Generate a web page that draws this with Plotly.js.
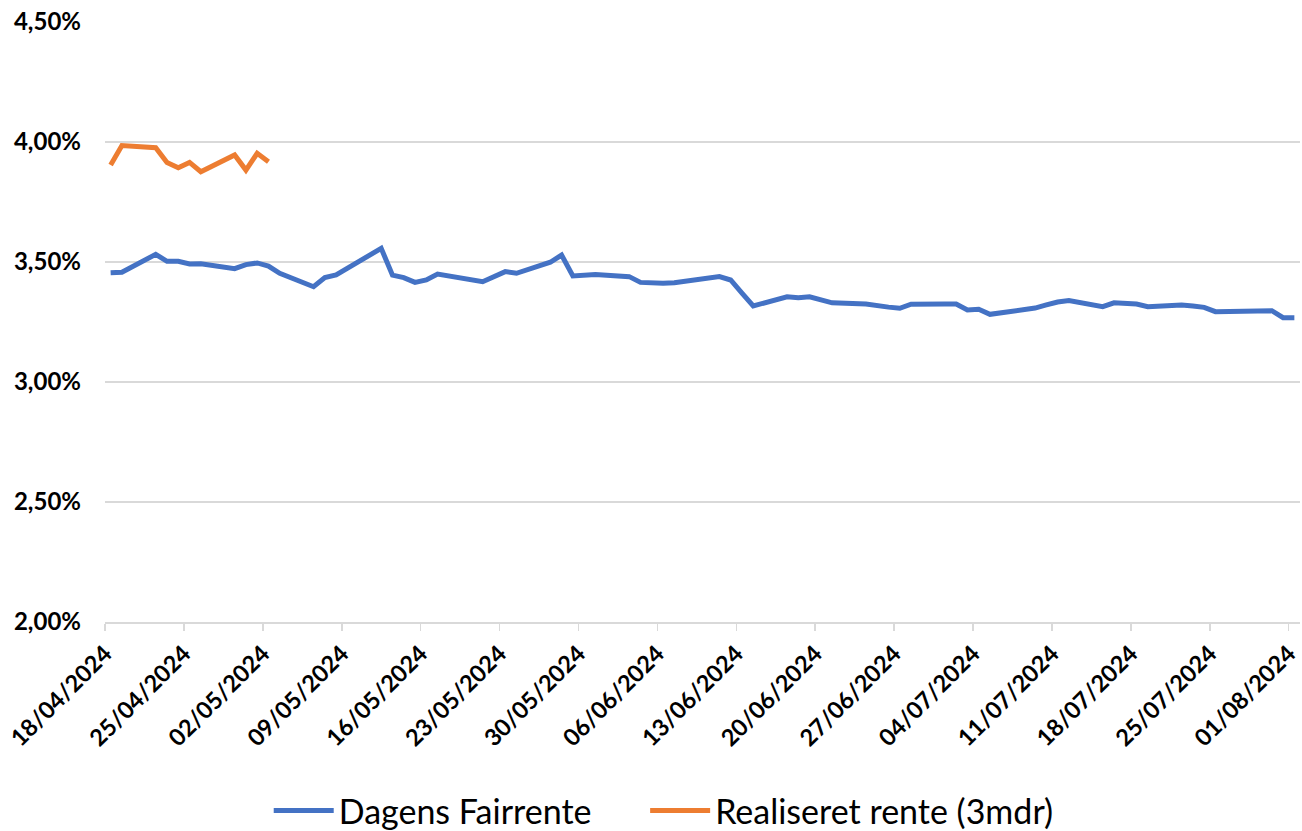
<!DOCTYPE html>
<html>
<head>
<meta charset="utf-8">
<script src="https://cdn.plot.ly/plotly-3.0.1.min.js"></script>
<style>html,body{margin:0;padding:0;background:#fff;}#chart{width:1302px;height:831px;}</style>
</head>
<body>
<div id="chart"></div>
<script>
// Dagens Fairrente (blue)
const fairDates = ["2024-04-18","2024-04-19","2024-04-22","2024-04-23","2024-04-24","2024-04-25","2024-04-26",
"2024-04-29","2024-04-30","2024-05-01","2024-05-02","2024-05-03","2024-05-06","2024-05-07","2024-05-08",
"2024-05-12","2024-05-13","2024-05-14","2024-05-15","2024-05-16","2024-05-17","2024-05-21","2024-05-23","2024-05-24",
"2024-05-27","2024-05-28","2024-05-29","2024-05-30","2024-05-31","2024-06-03","2024-06-04","2024-06-06","2024-06-07",
"2024-06-11","2024-06-12","2024-06-13","2024-06-14","2024-06-17","2024-06-18","2024-06-19","2024-06-20","2024-06-21",
"2024-06-24","2024-06-25","2024-06-26","2024-06-27","2024-06-28","2024-07-01","2024-07-02","2024-07-03","2024-07-04","2024-07-05",
"2024-07-08","2024-07-09","2024-07-10","2024-07-11","2024-07-12","2024-07-15","2024-07-16","2024-07-17","2024-07-18","2024-07-19",
"2024-07-22","2024-07-23","2024-07-24","2024-07-25","2024-07-26","2024-07-29","2024-07-30","2024-07-31","2024-08-01"];
const fairValues = [3.455,3.457,3.532,3.503,3.503,3.492,3.493,
3.472,3.489,3.496,3.483,3.453,3.397,3.435,3.446,
3.557,3.445,3.435,3.415,3.425,3.450,3.418,3.460,3.453,
3.499,3.529,3.442,3.444,3.448,3.439,3.415,3.411,3.414,
3.439,3.425,3.370,3.317,3.355,3.351,3.355,3.343,3.330,
3.325,3.317,3.312,3.307,3.324,3.325,3.325,3.300,3.303,3.282,
3.300,3.308,3.321,3.333,3.339,3.314,3.330,3.327,3.325,3.314,
3.321,3.317,3.311,3.293,3.294,3.296,3.297,3.268,3.268];

// Realiseret rente (3mdr) (orange)
const realDates = ["2024-04-18","2024-04-19","2024-04-22","2024-04-23","2024-04-24","2024-04-25","2024-04-26",
"2024-04-29","2024-04-30","2024-05-01","2024-05-02"];
const realValues = [3.904,3.985,3.976,3.915,3.893,3.915,3.876,3.946,3.883,3.953,3.918];

// Axis ticks
const tickDates = ["2024-04-18","2024-04-25","2024-05-02","2024-05-09","2024-05-16","2024-05-23","2024-05-30",
"2024-06-06","2024-06-13","2024-06-20","2024-06-27","2024-07-04","2024-07-11","2024-07-18","2024-07-25","2024-08-01"];
const tickLabels = ["18/04/2024","25/04/2024","02/05/2024","09/05/2024","16/05/2024","23/05/2024","30/05/2024",
"06/06/2024","13/06/2024","20/06/2024","27/06/2024","04/07/2024","11/07/2024","18/07/2024","25/07/2024","01/08/2024"];
const yTicks = [2.0,2.5,3.0,3.5,4.0,4.5];

// points sit in the middle of each day slot (Excel date axis)
const mid = d => d + " 12:00";
const pct = v => v / 100;

const traces = [
  {x: fairDates.map(mid), y: fairValues.map(pct), type: "scatter", mode: "lines", name: "Dagens Fairrente",
   line: {color: "#4472C4", width: 5}, legend: "legend"},
  {x: realDates.map(mid), y: realValues.map(pct), type: "scatter", mode: "lines", name: "Realiseret rente (3mdr)",
   line: {color: "#ED7D31", width: 5}, legend: "legend2"}
];

const legendBase = {
  orientation: "h", xanchor: "left", y: -0.315, yanchor: "middle",
  font: {size: 34, family: "Lato", color: "#000"},
  itemwidth: 60, bgcolor: "rgba(0,0,0,0)"
};

const layout = {
  width: 1302, height: 831,
  margin: {l: 105, r: 2, t: 22, b: 209, autoexpand: false},
  paper_bgcolor: "#fff", plot_bgcolor: "#fff",
  separators: ",.",
  showlegend: true,
  font: {family: "Lato, 'Open Sans', sans-serif", color: "#000"},
  xaxis: {
    type: "date", automargin: false,
    range: ["2024-04-18", "2024-08-02"],
    tickmode: "array", tickvals: tickDates, ticktext: tickLabels,
    tickangle: -45,
    tickfont: {size: 23.5, family: "Lato", weight: "bold", color: "#000"},
    showgrid: false, zeroline: false,
    showline: true, linecolor: "#d9d9d9", linewidth: 1.5,
    ticks: "outside", ticklen: 7, tickcolor: "#d9d9d9", tickwidth: 1.5
  },
  yaxis: {
    range: [0.02, 0.045], automargin: false,
    tickmode: "array", tickvals: yTicks.map(pct), tickformat: ".2%",
    tickfont: {size: 24, family: "Lato", weight: "bold", color: "#000"},
    showgrid: true, gridcolor: "#d9d9d9", gridwidth: 1.5,
    zeroline: false, showline: false, ticks: "", ticklabelstandoff: 23
  },
  legend: Object.assign({}, legendBase, {x: 0.137}),
  legend2: Object.assign({}, legendBase, {x: 0.452})
};

Plotly.newPlot("chart", traces, layout, {displayModeBar: false, staticPlot: true});
</script>
</body>
</html>
